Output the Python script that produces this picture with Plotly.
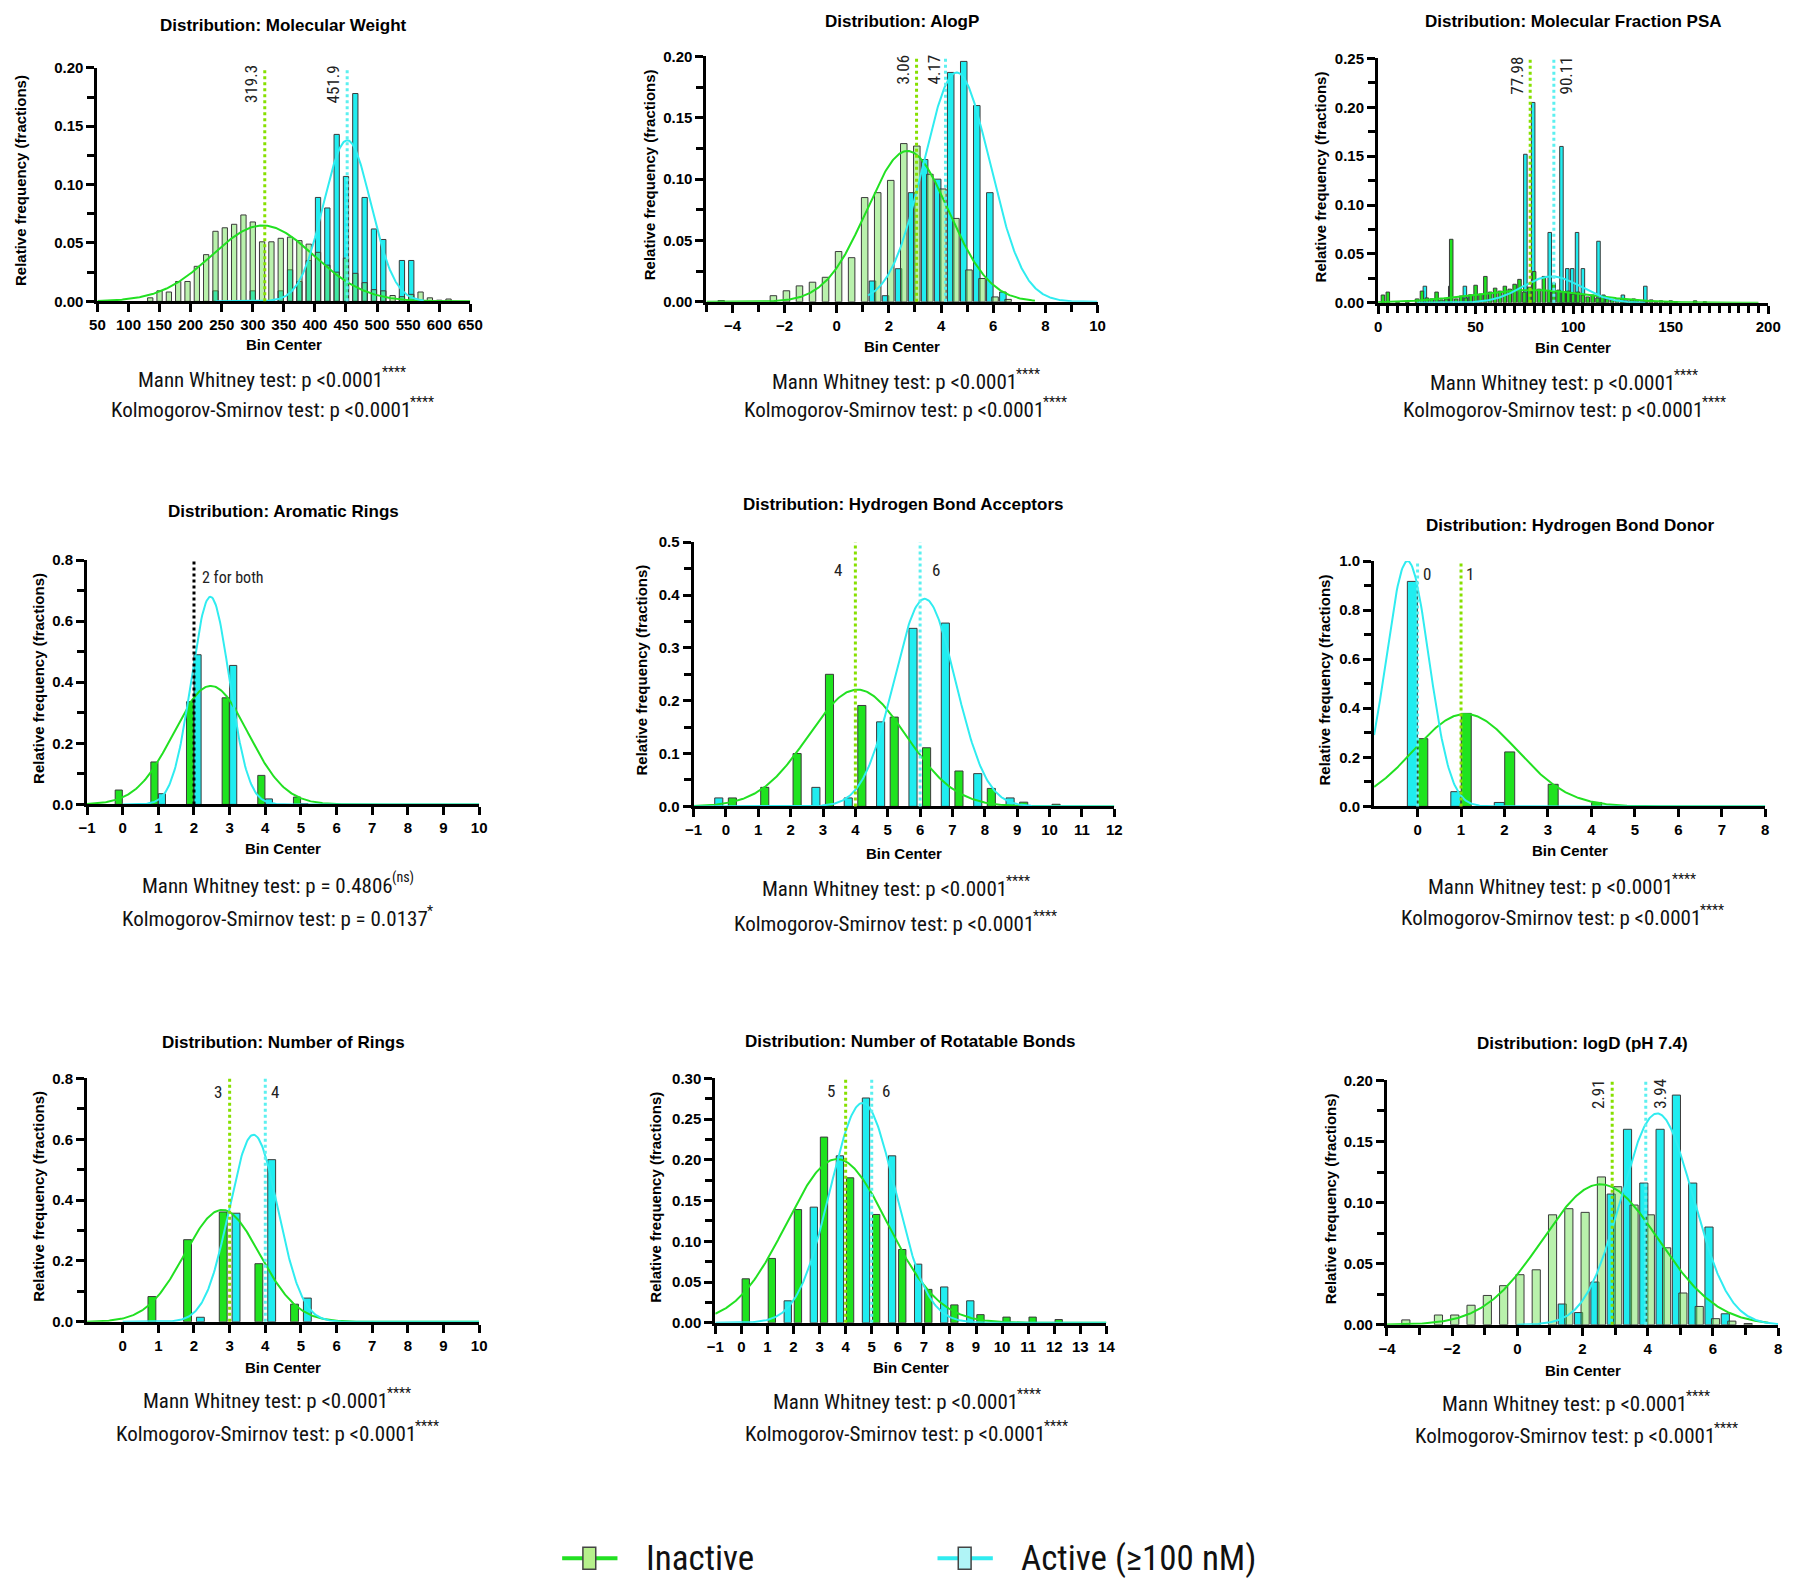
import numpy as np
import plotly.graph_objects as go

W, H = 1800, 1590

# ======================= DATA =======================
# 1. Molecular Weight (bin centres, relative frequencies)
mw_bins = [135, 150, 165, 180, 195, 210, 225, 240, 255, 270, 285, 300, 315, 330, 345, 360, 375,
           390, 405, 420, 435, 450, 465, 480, 495, 510, 525, 540, 555, 570, 585, 600, 615]
mw_inactive = [0.003, 0.009, 0.008, 0.017, 0.017, 0.030, 0.040, 0.060, 0.063, 0.066, 0.074, 0.068,
               0.051, 0.051, 0.054, 0.055, 0.052, 0.049, 0.042, 0.031, 0.025, 0.037, 0.024, 0.016,
               0.010, 0.009, 0.005, 0.004, 0.006, 0.008, 0.003, 0.001, 0.002]
mw_active = [0, 0, 0, 0, 0, 0, 0, 0.009, 0, 0, 0, 0.009, 0, 0, 0.009, 0.027, 0.017, 0.035, 0.089,
             0.080, 0.143, 0.107, 0.178, 0.089, 0.062, 0.053, 0, 0.035, 0.035, 0, 0, 0, 0]
mw_medians = [319.3, 451.9]                      # inactive, active
mw_fit_inactive = [0.065, 316, 82]               # Gaussian fit: amplitude, mean, SD
mw_fit_active = [0.138, 452, 38]

# 2. AlogP
alogp_bins = [-4.5, -4.0, -3.5, -3.0, -2.5, -2.0, -1.5, -1.0, -0.5, 0.0, 0.5, 1.0, 1.5, 2.0, 2.5,
              3.0, 3.5, 4.0, 4.5, 5.0, 5.5, 6.0, 6.5, 7.0]
alogp_inactive = [0.001, 0, 0, 0, 0.005, 0.009, 0.013, 0.016, 0.020, 0.041, 0.036, 0.085, 0.089,
                  0.099, 0.129, 0.127, 0.104, 0.092, 0.068, 0.026, 0.019, 0.004, 0.002, 0]
alogp_active = [0, 0, 0, 0, 0, 0, 0, 0, 0, 0, 0, 0, 0.017, 0.005, 0.027, 0.089, 0.116, 0.100,
                0.187, 0.196, 0.160, 0.089, 0.008, 0]
alogp_medians = [3.06, 4.17]
alogp_fit_inactive = [0.123, 2.71, 1.57]
alogp_fit_active = [0.187, 4.6, 1.27]

# 3. Molecular Fraction PSA
psa_bins_inactive = [2.5, 5, 7.5, 10, 12.5, 15, 17.5, 20, 22.5, 25, 27.5, 30, 32.5, 35, 37.5, 40,
                     42.5, 45, 47.5, 50, 52.5, 55, 57.5, 60, 62.5, 65, 67.5, 70, 72.5, 75, 77.5, 80,
                     82.5, 85, 87.5, 90, 92.5, 95, 97.5, 100, 102.5, 105, 107.5, 110, 112.5, 115,
                     117.5, 120, 122.5, 125, 127.5, 130, 132.5, 135, 137.5, 140, 142.5, 145, 147.5,
                     150, 152.5, 155, 157.5, 160, 162.5, 165, 167.5]
psa_inactive = [0.008, 0.011, 0, 0.001, 0, 0.001, 0, 0.004, 0.012, 0.005,
                0.004, 0.011, 0.003, 0.004, 0.065, 0.004, 0.007, 0.005, 0.008, 0.018,
                0.009, 0.027, 0.011, 0.015, 0.012, 0.017, 0.014, 0.019, 0.024, 0.011,
                0.016, 0.032, 0.014, 0.027, 0.012, 0.020, 0.013, 0.011, 0.012, 0.009,
                0.011, 0.008, 0.006, 0.008, 0.005, 0.007, 0.004, 0.003, 0.003, 0.004,
                0.002, 0.003, 0.002, 0.001, 0.002, 0.003, 0.001, 0.002, 0.001, 0.002,
                0.001, 0, 0, 0, 0.002, 0, 0.001]
psa_bins_active = [24, 37, 44.5, 47, 75.5, 79.5, 88, 94, 97, 99.5, 102, 105, 113, 115.5, 125.5, 131, 137]
psa_active = [0.017, 0.017, 0.017, 0.008, 0.152, 0.205, 0.072, 0.160, 0.035, 0.035, 0.072, 0.035,
              0.063, 0.008, 0.008, 0.004, 0.017]
psa_medians = [77.98, 90.11]
psa_fit_inactive = [0.013, 78, 31]
psa_fit_active = [0.027, 89, 15]

# 4. Aromatic Rings
arom_bins = [0, 1, 2, 3, 4, 5, 6]
arom_inactive = [0.047, 0.139, 0.336, 0.349, 0.095, 0.024, 0.002]
arom_active = [0, 0.035, 0.490, 0.455, 0.018, 0.002, 0]
arom_medians = [2, 2]
arom_fit_inactive = [0.388, 2.47, 1.04]
arom_fit_active = [0.68, 2.46, 0.53]

# 5. Hydrogen Bond Acceptors
hba_bins = [0, 1, 2, 3, 4, 5, 6, 7, 8, 9, 10]
hba_inactive = [0.016, 0.036, 0.100, 0.250, 0.191, 0.169, 0.111, 0.067, 0.034, 0.008, 0.004]
hba_active = [0.016, 0, 0, 0.036, 0.016, 0.160, 0.337, 0.347, 0.062, 0.016, 0]
hba_medians = [4, 6]
hba_fit_inactive = [0.221, 4.06, 1.51]
hba_fit_active = [0.393, 6.14, 0.95]

# 6. Hydrogen Bond Donor
hbd_bins = [0, 1, 2, 3, 4, 5]
hbd_inactive = [0.276, 0.379, 0.222, 0.090, 0.016, 0.003]
hbd_active = [0.917, 0.060, 0.016, 0, 0, 0]
hbd_medians = [1, 0]
hbd_fit_inactive = [0.377, 1.10, 1.19]
hbd_fit_active = [1.0, -0.23, 0.49]

# 7. Number of Rings
rings_bins = [1, 2, 3, 4, 5]
rings_inactive = [0.083, 0.270, 0.361, 0.191, 0.058]
rings_active = [0, 0.015, 0.357, 0.533, 0.078]
rings_medians = [3, 4]
rings_fit_inactive = [0.368, 2.79, 1.05]
rings_fit_active = [0.615, 3.67, 0.68]

# 8. Number of Rotatable Bonds
rotb_bins = [0, 1, 2, 3, 4, 5, 6, 7, 8, 9, 10, 11, 12]
rotb_inactive = [0.054, 0.079, 0.139, 0.228, 0.178, 0.133, 0.090, 0.041, 0.022, 0.010, 0.007, 0.007, 0.004]
rotb_active = [0, 0, 0.027, 0.142, 0.205, 0.276, 0.205, 0.072, 0.044, 0.027, 0, 0, 0]
rotb_medians = [4, 5]
rotb_median_labels = ["5", "6"]
rotb_fit_inactive = [0.201, 3.67, 1.94]
rotb_fit_active = [0.27, 4.65, 1.24]

# 9. logD (pH 7.4)
logd_bins = [-3.5, -3.0, -2.5, -2.0, -1.5, -1.0, -0.5, 0.0, 0.5, 1.0, 1.5, 2.0, 2.5, 3.0, 3.5, 4.0,
             4.5, 5.0, 5.5, 6.0, 6.5, 7.0]
logd_inactive = [0.004, 0, 0.008, 0.008, 0.016, 0.024, 0.032, 0.041, 0.045, 0.090, 0.095, 0.092,
                 0.121, 0.113, 0.098, 0.090, 0.063, 0.026, 0.015, 0.005, 0.003, 0.001]
logd_active = [0, 0, 0, 0, 0, 0, 0, 0, 0, 0, 0.017, 0.010, 0.035, 0.107, 0.160, 0.116, 0.160,
               0.188, 0.116, 0.080, 0.009, 0]
logd_medians = [2.91, 3.94]
logd_fit_inactive = [0.115, 2.55, 1.78]
logd_fit_active = [0.173, 4.29, 1.1]

titles = ["Distribution: Molecular Weight", "Distribution: AlogP", "Distribution: Molecular Fraction PSA",
          "Distribution: Aromatic Rings", "Distribution: Hydrogen Bond Acceptors",
          "Distribution: Hydrogen Bond Donor", "Distribution: Number of Rings",
          "Distribution: Number of Rotatable Bonds", "Distribution: logD (pH 7.4)"]
# statistics lines: (main text, superscript significance mark)
STD_STATS = [("Mann Whitney test: p <0.0001", "****"), ("Kolmogorov-Smirnov test: p <0.0001", "****")]
AROM_STATS = [("Mann Whitney test: p = 0.4806", "(ns)"), ("Kolmogorov-Smirnov test: p = 0.0137", "*")]
stats_texts = [STD_STATS] * 3 + [AROM_STATS] + [STD_STATS] * 5
legend_labels = ["Inactive", "Active (≥100 nM)"]

# ======================= STYLE =======================
BOLD = "Liberation Sans, Arial, Helvetica, sans-serif"
NARROW = "Liberation Sans Narrow, Arial Narrow, Roboto Condensed, DejaVu Sans Condensed, sans-serif"
GREEN_BAR = "#1fe31f"
PALE_GREEN = "rgba(100,225,70,0.45)"
CYAN_BAR = "#20edf0"
OUTLINE = "#3a3a3a"
GREEN_LINE = "#22e022"
CYAN_LINE = "#30ecf0"
GREEN_MED = "#86e000"
CYAN_MED = "#5cf0f0"
# where each stats line's main text ends, relative to the line centre (px)
STD_ENDS = (111, 139)
AROM_ENDS = (116, 151)

panels = [
    dict(box=(89.5, 467, 59.5, 295.5), xr=(50, 650), yr=0.20, xt=dict(tick0=50, dtick=50), xminor=None,
         yt=0.05, yminor=0.025, yfmt=".2f",
         bi=mw_bins, vi=mw_inactive, ba=mw_bins, va=mw_active, gcol=PALE_GREEN,
         bar_i=(-4.25, 8.5), bar_a=(-4.25, 8.5),
         fi=mw_fit_inactive, fa=mw_fit_active, fri=(50, 650), fra=(240, 575),
         med=mw_medians, medlab=[("319.3", -14, True), ("451.9", -14, True)], medy=0.93,
         ttl_y=17, bc_y=339, st_y=(375, 405), st_x=269, yt_x=11.5),
    dict(box=(706, 1102, 48, 296), xr=(-5, 10), yr=0.20, xt=dict(tick0=0, dtick=2), xminor=1,
         yt=0.05, yminor=0.025, yfmt=".2f",
         bi=alogp_bins, vi=alogp_inactive, ba=alogp_bins, va=alogp_active, gcol=PALE_GREEN,
         bar_i=(-0.055, 0.25), bar_a=(-0.255, 0.25),
         fi=alogp_fit_inactive, fa=alogp_fit_active, fri=(-5, 7.6), fra=(1.2, 10),
         med=alogp_medians, medlab=[("3.06", -14, True), ("4.17", -12, True)], medy=0.945,
         ttl_y=13, bc_y=341, st_y=(377, 405), st_x=910, yt_x=648),
    dict(box=(1386, 1781, 50, 297), xr=(0, 200), yr=0.25, xt=dict(tick0=0, dtick=50), xminor=5,
         yt=0.05, yminor=0.025, yfmt=".2f",
         bi=psa_bins_inactive, vi=psa_inactive, ba=psa_bins_active, va=psa_active, gcol=GREEN_BAR,
         bar_i=(-0.9, 1.8), bar_a=(-0.9, 1.8),
         fi=psa_fit_inactive, fa=psa_fit_active, fri=(0, 195), fra=(20, 137),
         med=psa_medians, medlab=[("77.98", -14, True), ("90.11", 12, True)], medy=0.93,
         ttl_y=13, bc_y=342, st_y=(378, 405), st_x=1577, yt_x=1328),
    dict(box=(79, 476, 557, 804), xr=(-1, 10), yr=0.8, xt=dict(tick0=0, dtick=1), xminor=None,
         yt=0.2, yminor=0.1, yfmt=".1f",
         bi=arom_bins, vi=arom_inactive, ba=arom_bins, va=arom_active, gcol=GREEN_BAR,
         bar_i=(-0.21, 0.2), bar_a=(0.0, 0.2),
         fi=arom_fit_inactive, fa=arom_fit_active, fri=(-1, 10), fra=(0, 10),
         med=arom_medians, medlab=[("2 for both", 6, False)], medy=0.93,
         ttl_y=508, bc_y=849, st_y=(886, 920), st_x=274, yt_x=30),
    dict(box=(693, 1119, 539, 806), xr=(-1, 12), yr=0.5, xt=dict(tick0=0, dtick=1), xminor=None,
         yt=0.1, yminor=0.05, yfmt=".1f",
         bi=hba_bins, vi=hba_inactive, ba=hba_bins, va=hba_active, gcol=GREEN_BAR,
         bar_i=(0.075, 0.25), bar_a=(-0.345, 0.25),
         fi=hba_fit_inactive, fa=hba_fit_active, fri=(-1, 12), fra=(-1, 12),
         med=hba_medians, medlab=[("4", -17, False), ("6", 16, False)], medy=0.895,
         ttl_y=501, bc_y=854, st_y=(890, 925), st_x=900, yt_x=640),
    dict(box=(1382, 1778, 558, 806), xr=(-1, 8), yr=1.0, xt=dict(tickvals=[0, 1, 2, 3, 4, 5, 6, 7, 8]),
         xminor=None, yt=0.2, yminor=0.1, yfmt=".1f",
         bi=hbd_bins, vi=hbd_inactive, ba=hbd_bins, va=hbd_active, gcol=GREEN_BAR,
         bar_i=(0.005, 0.23), bar_a=(-0.235, 0.23),
         fi=hbd_fit_inactive, fa=hbd_fit_active, fri=(-1, 8), fra=(-1, 8),
         med=hbd_medians, medlab=[("1", 9, False), ("0", 9, False)], medy=0.948,
         ttl_y=522, bc_y=851, st_y=(887, 919), st_x=1575, yt_x=1332),
    dict(box=(79, 476, 1081, 1327), xr=(-1, 10), yr=0.8, xt=dict(tickvals=list(range(0, 11))),
         xminor=None, yt=0.2, yminor=0.1, yfmt=".1f",
         bi=rings_bins, vi=rings_inactive, ba=rings_bins, va=rings_active, gcol=GREEN_BAR,
         bar_i=(-0.29, 0.22), bar_a=(0.07, 0.22),
         fi=rings_fit_inactive, fa=rings_fit_active, fri=(-1, 10), fra=(0, 10),
         med=rings_medians, medlab=[("3", -12, False), ("4", 10, False)], medy=0.943,
         ttl_y=1045, bc_y=1373, st_y=(1407, 1440), st_x=274, yt_x=30),
    dict(box=(715, 1111, 1081, 1328), xr=(-1, 14), yr=0.30, xt=dict(tick0=0, dtick=1), xminor=None,
         yt=0.05, yminor=0.025, yfmt=".2f",
         bi=rotb_bins, vi=rotb_inactive, ba=rotb_bins, va=rotb_active, gcol=GREEN_BAR,
         bar_i=(0.03, 0.28), bar_a=(-0.36, 0.28),
         fi=rotb_fit_inactive, fa=rotb_fit_active, fri=(-1, 14), fra=(-1, 14),
         med=rotb_medians, medlab=[(rotb_median_labels[0], -15, False), (rotb_median_labels[1], 14, False)],
         medy=0.947, ttl_y=1044, bc_y=1373, st_y=(1408, 1440), st_x=911, yt_x=655),
    dict(box=(1395, 1791, 1083, 1330), xr=(-4, 8), yr=0.20, xt=dict(tick0=0, dtick=2), xminor=1,
         yt=0.05, yminor=0.025, yfmt=".2f",
         bi=logd_bins, vi=logd_inactive, ba=logd_bins, va=logd_active, gcol=PALE_GREEN,
         bar_i=(-0.045, 0.25), bar_a=(-0.245, 0.25),
         fi=logd_fit_inactive, fa=logd_fit_active, fri=(-4, 7.7), fra=(0, 8),
         med=logd_medians, medlab=[("2.91", -14, True), ("3.94", 14, True)], medy=0.945,
         ttl_y=1046, bc_y=1376, st_y=(1410, 1442), st_x=1589, yt_x=1338),
]


def gauss(x, a, m, s):
    return a * np.exp(-(x - m) ** 2 / (2 * s ** 2))


def px(x):
    return x / W


def py(y):
    return 1 - y / H


fig = go.Figure()
layout = dict(width=W, height=H, margin=dict(l=0, r=0, t=0, b=0), paper_bgcolor="white",
              plot_bgcolor="white", barmode="overlay", showlegend=False)
shapes, annotations = [], []

tickfont = dict(family=BOLD, size=15, color="black", weight="bold")

for i, p in enumerate(panels, start=1):
    xa = "x" if i == 1 else f"x{i}"
    ya = "y" if i == 1 else f"y{i}"
    xk = "xaxis" if i == 1 else f"xaxis{i}"
    yk = "yaxis" if i == 1 else f"yaxis{i}"
    x0, x1, yt_, yb_ = p["box"]

    # bars: active first, inactive on top
    for bins, vals, (off, wid), col in ((p["ba"], p["va"], p["bar_a"], CYAN_BAR),
                                        (p["bi"], p["vi"], p["bar_i"], p["gcol"])):
        bx = [b for b, v in zip(bins, vals) if v > 0]
        by = [v for v in vals if v > 0]
        fig.add_trace(go.Bar(x=bx, y=by, offset=off, width=wid, xaxis=xa, yaxis=ya,
                             marker=dict(color=col, line=dict(color=OUTLINE, width=1)),
                             showlegend=False, hoverinfo="skip"))
    # Gaussian fits
    for fit, rng, col in ((p["fi"], p["fri"], GREEN_LINE), (p["fa"], p["fra"], CYAN_LINE)):
        xs = np.linspace(rng[0], rng[1], 400)
        fig.add_trace(go.Scatter(x=xs, y=gauss(xs, *fit), mode="lines", xaxis=xa, yaxis=ya,
                                 line=dict(color=col, width=2), showlegend=False, hoverinfo="skip"))

    # axes
    xaxis = dict(domain=[px(x0), px(x1)], range=[p["xr"][0], p["xr"][1]], anchor=ya,
                 showline=True, linecolor="black", linewidth=3, ticks="outside", ticklen=8,
                 tickwidth=2.5, tickcolor="black", showgrid=False, zeroline=False, tickfont=tickfont,
                 fixedrange=True)
    if "tickvals" in p["xt"]:
        xaxis.update(tickmode="array", tickvals=p["xt"]["tickvals"])
    else:
        xaxis.update(tickmode="linear", tick0=p["xt"]["tick0"], dtick=p["xt"]["dtick"])
    if p["xminor"]:
        xaxis["minor"] = dict(dtick=p["xminor"], tick0=0, ticks="outside", ticklen=7, tickwidth=2.5,
                              tickcolor="black", showgrid=False)
    layout[xk] = xaxis
    layout[yk] = dict(domain=[py(yb_), py(yt_)], range=[0, p["yr"]], anchor=xa,
                      showline=True, linecolor="black", linewidth=3, ticks="outside", ticklen=8,
                      tickwidth=2.5, tickcolor="black", showgrid=False, zeroline=False,
                      tickfont=tickfont, tickmode="linear", tick0=0, dtick=p["yt"],
                      tickformat=p["yfmt"], fixedrange=True,
                      minor=dict(dtick=p["yminor"], tick0=0, ticks="outside", ticklen=7,
                                 tickwidth=2.5, tickcolor="black", showgrid=False))

    # median lines
    if i == 4:
        shapes.append(dict(type="line", xref=xa, yref=f"{ya} domain", x0=p["med"][0], x1=p["med"][0],
                           y0=0, y1=1, line=dict(color="black", width=3, dash="dot")))
        meds = [(p["med"][0], p["medlab"][0])]
    else:
        for m, col in ((p["med"][0], GREEN_MED), (p["med"][1], CYAN_MED)):
            shapes.append(dict(type="line", xref=xa, yref=f"{ya} domain", x0=m, x1=m, y0=0, y1=1,
                               line=dict(color=col, width=3, dash="dot")))
        meds = list(zip(p["med"], p["medlab"]))
    for m, (txt, shift, rot) in meds:
        ann = dict(x=m, xref=xa, y=p["medy"], yref=f"{ya} domain", text=txt, showarrow=False,
                   xshift=shift, font=dict(family=NARROW, size=17, color="#222"))
        if rot:
            ann.update(textangle=-90, xanchor="center", yanchor="middle")
        elif txt == "2 for both":
            ann.update(xanchor="left", yanchor="middle", font=dict(family=NARROW, size=16, color="#222"))
        else:
            ann.update(xanchor="center", yanchor="middle")
        annotations.append(ann)

    cx = (x0 + x1) / 2
    # title
    annotations.append(dict(x=px(cx), y=py(p["ttl_y"]), xref="paper", yref="paper", showarrow=False,
                            text=titles[i - 1], xanchor="center", yanchor="middle",
                            font=dict(family=BOLD, size=17, color="black", weight="bold")))
    # x title
    annotations.append(dict(x=px(cx), y=py(p["bc_y"]), xref="paper", yref="paper", showarrow=False,
                            text="Bin Center", xanchor="center", yanchor="middle",
                            font=dict(family=BOLD, size=15, color="black", weight="bold")))
    # y title
    annotations.append(dict(x=px(p["yt_x"]), y=py((yt_ + yb_) / 2 - 4), xref="paper", yref="paper",
                            showarrow=False, text="Relative frequency (fractions)", textangle=-90,
                            xanchor="center", yanchor="middle",
                            font=dict(family=BOLD, size=15, color="black", weight="bold")))
    # stats lines: main text right-anchored, significance mark as a raised small text after it
    ends = AROM_ENDS if i == 4 else STD_ENDS
    for (main, mark), yy, e in zip(stats_texts[i - 1], p["st_y"], ends):
        xe = px(p["st_x"] + e)
        annotations.append(dict(x=xe, y=py(yy), xref="paper", yref="paper", showarrow=False,
                                text=main, xanchor="right", yanchor="middle", borderpad=0,
                                font=dict(family=NARROW, size=21, color="#111")))
        annotations.append(dict(x=xe, y=py(yy), xref="paper", yref="paper", showarrow=False,
                                text=mark, xanchor="left", yanchor="middle", yshift=8, xshift=-3,
                                borderpad=0, font=dict(family=NARROW, size=14, color="#111")))

# legend (drawn manually)
leg_y = 1566
for (lx0, lx1, rx0, rx1, tx), lcol, fcol, lab in (
        ((560, 616, 581, 594, 643), GREEN_LINE, "#b6f08c", legend_labels[0]),
        ((940, 996, 961, 974, 1022), CYAN_LINE, "#b0f4f6", legend_labels[1])):
    shapes.append(dict(type="line", xref="paper", yref="paper", x0=px(lx0), x1=px(lx1),
                       y0=py(leg_y), y1=py(leg_y), line=dict(color=lcol, width=4)))
    shapes.append(dict(type="rect", xref="paper", yref="paper", x0=px(rx0), x1=px(rx1),
                       y0=py(leg_y + 11), y1=py(leg_y - 11), fillcolor=fcol,
                       line=dict(color="#444", width=1.5)))
    annotations.append(dict(x=px(tx), y=py(leg_y), xref="paper", yref="paper", showarrow=False,
                            text=lab, xanchor="left", yanchor="middle",
                            font=dict(family=NARROW, size=35, color="#111")))

layout["shapes"] = shapes
layout["annotations"] = annotations
fig.update_layout(**layout)
fig.write_html("out.html", config={"displayModeBar": False},
               post_script="document.body.style.margin='0px';")
